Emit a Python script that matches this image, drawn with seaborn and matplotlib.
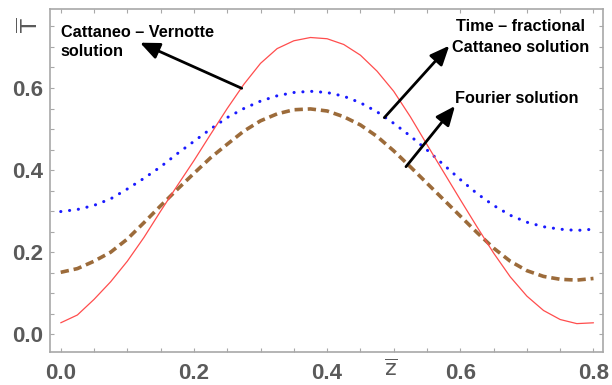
import numpy as np
import pandas as pd
import matplotlib
matplotlib.use("Agg")
import matplotlib.pyplot as plt
from matplotlib.ticker import MultipleLocator, FixedLocator
import seaborn as sns

# ---- data ----
z_vals = [0.000, 0.025, 0.050, 0.075, 0.100, 0.125, 0.150, 0.175, 0.200, 0.225, 0.250,
          0.275, 0.300, 0.325, 0.350, 0.375, 0.400, 0.425, 0.450, 0.475, 0.500, 0.525,
          0.550, 0.575, 0.600, 0.625, 0.650, 0.675, 0.700, 0.725, 0.750, 0.775, 0.800]

T_cv = [0.028, 0.047, 0.085, 0.128, 0.178, 0.236, 0.300, 0.362, 0.423, 0.487, 0.550,
        0.609, 0.660, 0.696, 0.715, 0.723, 0.720, 0.706, 0.680, 0.641, 0.592, 0.530,
        0.462, 0.395, 0.328, 0.262, 0.198, 0.140, 0.093, 0.058, 0.036, 0.026, 0.028]

T_frac = [0.299, 0.304, 0.314, 0.330, 0.354, 0.380, 0.408, 0.440, 0.470, 0.500, 0.528,
          0.550, 0.568, 0.581, 0.589, 0.592, 0.589, 0.580, 0.564, 0.542, 0.514, 0.483,
          0.449, 0.413, 0.377, 0.343, 0.314, 0.290, 0.273, 0.262, 0.256, 0.253, 0.256]

T_four = [0.151, 0.160, 0.178, 0.200, 0.232, 0.272, 0.313, 0.353, 0.392, 0.430, 0.463,
          0.495, 0.520, 0.537, 0.547, 0.549, 0.544, 0.530, 0.510, 0.482, 0.447, 0.408,
          0.368, 0.328, 0.288, 0.248, 0.210, 0.178, 0.155, 0.141, 0.134, 0.132, 0.136]

x_ticks = [0.0, 0.2, 0.4, 0.6, 0.8]
y_ticks = [0.0, 0.2, 0.4, 0.6]
x_tick_labels = ["0.0", "0.2", "0.4", "0.6", "0.8"]
y_tick_labels = ["0.0", "0.2", "0.4", "0.6"]

label_cv = "Cattaneo – Vernotte\nsolution"
label_frac = "Time – fractional\nCattaneo solution"
label_four = "Fourier solution"

# ---- style ----
sns.set_theme(style="white")
plt.rcParams['font.family'] = ['Liberation Sans', 'DejaVu Sans']

W, H = 612, 385
fig = plt.figure(figsize=(W / 100, H / 100), dpi=100)
L, R, B, Tp = 50, 603, 351.7, 9.3
ax = fig.add_axes([L / W, (H - B) / H, (R - L) / W, (B - Tp) / H])

df = pd.DataFrame({"z": z_vals, "cv": T_cv, "frac": T_frac, "four": T_four})

sns.lineplot(data=df, x="z", y="frac", ax=ax, color="#1a1aff", lw=2.2,
             linestyle=(0, (0.05, 2.85)), sort=False)
sns.lineplot(data=df, x="z", y="four", ax=ax, color="#9c6b3a", lw=2.6,
             linestyle=(0, (2.3, 1.35)), sort=False)
sns.lineplot(data=df, x="z", y="cv", ax=ax, color="#ff4d4d", lw=0.9, sort=False)
ax.lines[0].set_dash_capstyle("round")

ax.set_xlim(-0.0161, 0.8143)
ax.set_ylim(-0.0424, 0.7917)

ax.xaxis.set_major_locator(FixedLocator(x_ticks))
ax.yaxis.set_major_locator(FixedLocator(y_ticks))
ax.set_xticklabels(x_tick_labels)
ax.set_yticklabels(y_tick_labels)
ax.xaxis.set_minor_locator(MultipleLocator(0.05))
ax.yaxis.set_minor_locator(MultipleLocator(0.05))

grey = "#a8a8a8"
for s in ax.spines.values():
    s.set_visible(True)
    s.set_color(grey)
    s.set_linewidth(1.2)

ax.tick_params(which="both", direction="in", top=True, right=True, bottom=True, left=True,
               color=grey, width=0.8)
ax.tick_params(which="major", length=3.2)
ax.tick_params(which="minor", length=2.6)
ax.tick_params(axis="x", which="major", pad=8, labelsize=16, labelcolor="#5a5a5a")
ax.tick_params(axis="y", which="major", pad=5, labelsize=16, labelcolor="#5a5a5a")
for lab in ax.get_xticklabels() + ax.get_yticklabels():
    lab.set_fontweight("bold")

ax.set_xlabel("")
ax.set_ylabel("")

# axis labels
fig.text(30 / W, 1 - 25 / H, r"$\overline{\mathrm{T}}$", rotation=90, color="#5a5a5a",
         fontsize=16, ha="center", va="center")
fig.text(391 / W, 1 - 370 / H, r"$\overline{\mathrm{z}}$", color="#5a5a5a",
         fontsize=16, ha="center", va="center")

# annotations
def px2d(px, py):
    return ((px - 60.7) / 666.0, (334.3 - py) / 410.5)

arrow_style = dict(arrowstyle="-|>,head_length=0.65,head_width=0.28", color="black",
                   lw=2.0, mutation_scale=18, shrinkA=0, shrinkB=0)

ax.annotate("", xy=px2d(140, 42.7), xytext=px2d(241.7, 88.3), arrowprops=arrow_style)
ax.annotate("", xy=px2d(449.3, 45.7), xytext=px2d(384.3, 117.7), arrowprops=arrow_style)
ax.annotate("", xy=px2d(455, 106), xytext=px2d(406, 166.7), arrowprops=arrow_style)

ax.text(*px2d(60.7, 41.8), label_cv, ha="left", va="center", fontsize=11.7,
        fontweight="bold", color="black", linespacing=1.35)
ax.text(*px2d(521, 37), label_frac, ha="center", va="center", fontsize=11.7,
        fontweight="bold", color="black", linespacing=1.45, multialignment="center")
ax.text(*px2d(517, 98.3), label_four, ha="center", va="center", fontsize=11.7,
        fontweight="bold", color="black")

fig.savefig("out.png", dpi=100)
